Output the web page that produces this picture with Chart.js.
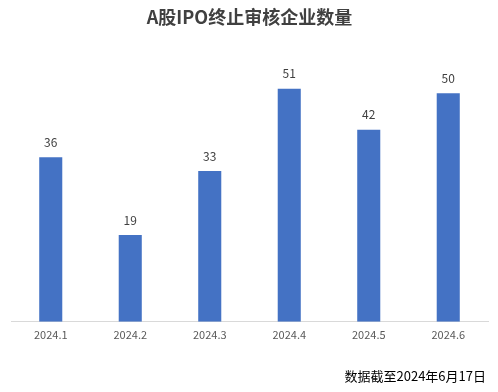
<!DOCTYPE html>
<html>
<head>
<meta charset="utf-8">
<script src="https://cdn.jsdelivr.net/npm/chart.js@4"></script>
<style>
  html, body { margin: 0; padding: 0; background: #fff; }
  #wrap { width: 498px; height: 392px; }
</style>
</head>
<body>
<div id="wrap"><canvas id="chart" width="498" height="392"></canvas></div>
<script>
const months = ["2024.1", "2024.2", "2024.3", "2024.4", "2024.5", "2024.6"];
const counts = [36, 19, 33, 51, 42, 50];
const titleText = "A股IPO终止审核企业数量";
const noteText = "数据截至2024年6月17日";

const fontFamily = "'Noto Sans CJK SC', 'Microsoft YaHei', sans-serif";

// 柱顶数值 + 右下角注释
const labelPlugin = {
  id: "labels",
  afterDatasetsDraw(chart) {
    const ctx = chart.ctx;
    const meta = chart.getDatasetMeta(0);
    ctx.save();
    ctx.font = "12px " + fontFamily;
    ctx.fillStyle = "#404040";
    ctx.textAlign = "center";
    ctx.textBaseline = "middle";
    meta.data.forEach((bar, i) => {
      ctx.fillText(counts[i], bar.x, bar.y - 15);
    });
    ctx.font = "13px " + fontFamily;
    ctx.fillStyle = "#000";
    ctx.textAlign = "right";
    ctx.fillText(noteText, 486, 376);
    ctx.restore();
  }
};

new Chart(document.getElementById("chart"), {
  type: "bar",
  data: {
    labels: months,
    datasets: [{
      data: counts,
      backgroundColor: "#4472C4",
      barPercentage: 0.29,
      categoryPercentage: 1
    }]
  },
  options: {
    responsive: false,
    animation: false,
    layout: { padding: { left: 11, right: 10, top: 0, bottom: 45 } },
    plugins: {
      legend: { display: false },
      tooltip: { enabled: false },
      title: {
        display: true,
        text: titleText,
        color: "#404040",
        font: { family: fontFamily, size: 18, weight: "bold" },
        padding: { top: 6, bottom: 20 }
      }
    },
    scales: {
      x: {
        grid: { display: false, drawTicks: false },
        border: { color: "#d9d9d9", width: 1 },
        ticks: { color: "#595959", font: { family: fontFamily, size: 11 }, padding: 6 }
      },
      y: {
        display: false,
        min: 0,
        max: 60
      }
    }
  },
  plugins: [labelPlugin]
});
</script>
</body>
</html>
